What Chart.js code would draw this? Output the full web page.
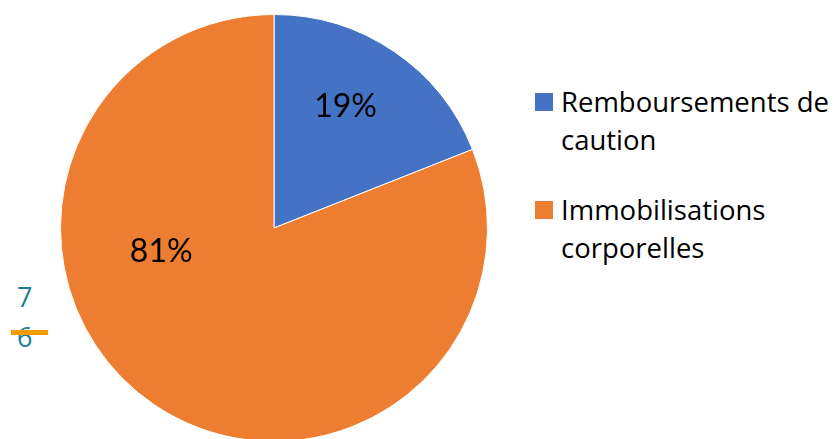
<!DOCTYPE html>
<html>
<head>
  <meta charset="utf-8">
  <title>Répartition</title>
  <script src="https://cdn.jsdelivr.net/npm/chart.js"></script>
  <style>
    html, body { margin: 0; padding: 0; background: #fff; width: 834px; height: 439px; overflow: hidden; }
    #pieBox { position: absolute; left: 60px; top: 14px; width: 428px; height: 428px; }
    #legend { position: absolute; left: 535px; top: 83px; font-family: 'Open Sans', sans-serif; font-size: 27.5px; color: #000; white-space: nowrap; }
    .item { position: relative; padding-left: 26px; line-height: 38px; margin-bottom: 32px; }
    .swatch { position: absolute; left: 0; top: 10px; width: 18px; height: 18px; }
    .stray { position: absolute; font-family: 'Open Sans', sans-serif; font-size: 27px; line-height: 27px; color: #1f7f92; }
    #strayLine { position: absolute; left: 11px; top: 330px; width: 37px; height: 5px; background: #f29c00; }
  </style>
</head>
<body>
  <div id="pieBox"><canvas id="chart"></canvas></div>
  <div id="legend"></div>
  <div class="stray" style="left:17px; top:283px;">7</div>
  <div class="stray" style="left:17px; top:323px;">6</div>
  <div id="strayLine"></div>
  <script>
    const categories = ['Remboursements de caution', 'Immobilisations corporelles'];
    const legendLines = [['Remboursements de', 'caution'], ['Immobilisations', 'corporelles']];
    const values = [19, 81];
    const percentLabels = ['19%', '81%'];
    const colors = ['#4472C4', '#ED7D31'];

    // labels placed like Excel "best fit": angle clockwise from top (deg), radius fraction
    const labelSpots = [{ angle: 30.5, r: 0.66 }, { angle: 258, r: 0.54 }];

    const pctLabels = {
      id: 'pctLabels',
      afterDatasetsDraw(chart) {
        const ctx = chart.ctx;
        const meta = chart.getDatasetMeta(0);
        ctx.save();
        ctx.font = '32px Lato, "Open Sans", sans-serif';
        ctx.fillStyle = '#000';
        ctx.textAlign = 'center';
        ctx.textBaseline = 'middle';
        meta.data.forEach((arc, i) => {
          const spot = labelSpots[i];
          const a = (spot.angle - 90) * Math.PI / 180;
          const r = arc.outerRadius * spot.r;
          ctx.fillText(percentLabels[i], arc.x + r * Math.cos(a), arc.y + r * Math.sin(a));
        });
        ctx.restore();
      }
    };

    new Chart(document.getElementById('chart').getContext('2d'), {
      type: 'pie',
      data: {
        labels: categories,
        datasets: [{
          data: values,
          backgroundColor: colors,
          borderColor: '#ffffff',
          borderWidth: 1
        }]
      },
      options: {
        responsive: true,
        maintainAspectRatio: false,
        animation: false,
        layout: { padding: 0 },
        plugins: {
          legend: { display: false },
          tooltip: { enabled: false }
        }
      },
      plugins: [pctLabels]
    });

    const legend = document.getElementById('legend');
    legendLines.forEach((lines, i) => {
      const item = document.createElement('div');
      item.className = 'item';
      const sw = document.createElement('span');
      sw.className = 'swatch';
      sw.style.background = colors[i];
      item.appendChild(sw);
      item.insertAdjacentHTML('beforeend', lines.join('<br>'));
      legend.appendChild(item);
    });
  </script>
</body>
</html>
